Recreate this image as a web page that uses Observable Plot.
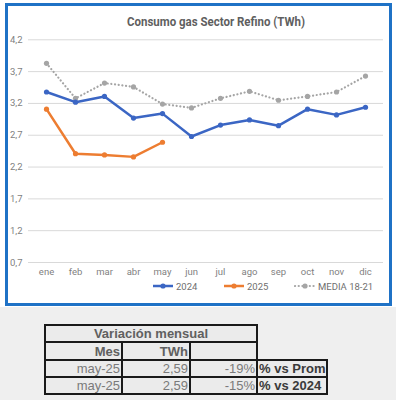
<!DOCTYPE html>
<html>
<head>
<meta charset="utf-8">
<script src="https://cdn.jsdelivr.net/npm/d3@7"></script>
<script src="https://cdn.jsdelivr.net/npm/@observablehq/plot@0.6"></script>
<style>
  html, body { margin: 0; padding: 0; background: #ffffff; }
  #wrap { position: relative; width: 396px; height: 400px; overflow: hidden; font-family: Roboto, "Liberation Sans", sans-serif; }
  #graybg { position: absolute; left: 0; top: 307px; width: 396px; height: 93px; background: #efefef; }
  #frame { position: absolute; left: 5px; top: 3px; width: 381px; height: 297px; border: 3px solid #1f72c6; background: #fff; }
  #plot { position: absolute; left: 0; top: 0; }
  #title { position: absolute; left: 0; top: 0; }
  #legend { position: absolute; left: 0; top: 279px; width: 396px; height: 16px; font-size: 9.5px; color: #6f6f6f; }
  .leg { position: absolute; top: 0; display: flex; align-items: center; height: 14px; }
  .leg svg { margin-right: 2px; }
  table { position: absolute; left: 44px; top: 324px; border-collapse: collapse; font-family: "Liberation Sans", Arial, sans-serif; font-size: 13px; table-layout: fixed; }
  td { padding: 0 1px; overflow: hidden; white-space: nowrap; line-height: 15px; }
  td.b { border: 2px solid #1a1a1a; background: #ebebeb; }
  td.h { font-weight: bold; color: #606060; }
  td.v { color: #7a7a7a; text-align: right; }
  td.lab { font-weight: bold; color: #3a3a3a; text-align: left; }
</style>
</head>
<body>
<div id="wrap">
  <div id="graybg"></div>
  <div id="frame"></div>
  <svg id="title" width="396" height="34">
    <text x="216" y="26" text-anchor="middle" font-family="Roboto, sans-serif" font-weight="bold" font-size="13.5" fill="#5f5f5f" textLength="178" lengthAdjust="spacingAndGlyphs">Consumo gas Sector Refino (TWh)</text>
  </svg>
  <div id="plot"></div>
  <div id="legend"></div>
  <table id="tbl"></table>
</div>
<script>
const months = ["ene","feb","mar","abr","may","jun","jul","ago","sep","oct","nov","dic"];
const v2024 = [3.38,3.22,3.31,2.97,3.04,2.68,2.86,2.94,2.85,3.11,3.02,3.14];
const v2025 = [3.11,2.41,2.39,2.36,2.59];
const media = [3.83,3.28,3.52,3.46,3.19,3.13,3.28,3.39,3.25,3.31,3.38,3.63];
const yTicks = [0.7,1.2,1.7,2.2,2.7,3.2,3.7,4.2];
const seriesNames = ["2024","2025","MEDIA 18-21"];
const seriesColors = ["#3b66c4","#ed7d31","#a5a5a5"];

const tableTitle = "Variación mensual";
const tableHead = ["Mes","TWh"];
const tableMes = ["may-25","may-25"];
const tableTwh = ["2,59","2,59"];
const tablePct = ["-19%","-15%"];
const tableLab = ["% vs Prom","% vs 2024"];

const d2024 = v2024.map((v,i)=>({m:months[i], v}));
const d2025 = v2025.map((v,i)=>({m:months[i], v}));
const dMed = media.map((v,i)=>({m:months[i], v}));
const fmt = d => d.toFixed(1).replace(".", ",");

const chart = Plot.plot({
  width: 396,
  height: 300,
  marginLeft: 28,
  marginRight: 13,
  marginTop: 39.3,
  marginBottom: 38,
  style: {background: "transparent", fontFamily: "Roboto, sans-serif", fontSize: "9.5px", color: "#7f7f7f", overflow: "visible"},
  x: {type: "point", domain: months, padding: 0.47, label: null},
  y: {domain: [0.7, 4.2], label: null},
  marks: [
    Plot.ruleY(yTicks, {stroke: "#d9d9d9", strokeWidth: 1}),
    Plot.axisY(yTicks, {tickSize: 0, tickPadding: 6, tickFormat: fmt, fill: "#7f7f7f"}),
    Plot.axisX(months, {tickSize: 0, tickPadding: 6, fill: "#7f7f7f"}),
    Plot.line(dMed, {x: "m", y: "v", stroke: seriesColors[2], strokeWidth: 2.2, strokeDasharray: "0.1,3.6", strokeLinecap: "round"}),
    Plot.dot(dMed, {x: "m", y: "v", r: 2.6, fill: seriesColors[2], stroke: "none"}),
    Plot.line(d2024, {x: "m", y: "v", stroke: seriesColors[0], strokeWidth: 2.5}),
    Plot.dot(d2024, {x: "m", y: "v", r: 2.6, fill: seriesColors[0], stroke: "none"}),
    Plot.line(d2025, {x: "m", y: "v", stroke: seriesColors[1], strokeWidth: 2.5}),
    Plot.dot(d2025, {x: "m", y: "v", r: 2.6, fill: seriesColors[1], stroke: "none"})
  ]
});
document.getElementById("plot").appendChild(chart);

// legend
const legend = document.getElementById("legend");
const legX = [152, 223, 294];
seriesNames.forEach((name, i) => {
  const el = document.createElement("div");
  el.className = "leg";
  el.style.left = legX[i] + "px";
  const dash = i === 2 ? 'stroke-dasharray="0.1,3.6" stroke-linecap="round" stroke-width="2.2"' : 'stroke-width="2.5"';
  el.innerHTML = `<svg width="22" height="14"><line x1="1" x2="21" y1="7" y2="7" stroke="${seriesColors[i]}" ${dash}/><circle cx="11" cy="7" r="2.6" fill="${seriesColors[i]}"/></svg><span>${name}</span>`;
  legend.appendChild(el);
});

// table
const tbl = document.getElementById("tbl");
const colW = [77, 68, 67, 67];
let html = "<colgroup>" + colW.map(w => `<col style="width:${w}px">`).join("") + "</colgroup>";
html += `<tr style="height:17px"><td class="b h" colspan="3" style="text-align:center">${tableTitle}</td><td></td></tr>`;
html += `<tr style="height:18px"><td class="b h" style="text-align:right">${tableHead[0]}</td><td class="b h" style="text-align:right">${tableHead[1]}</td><td class="b"></td><td></td></tr>`;
tableMes.forEach((m, i) => {
  html += `<tr style="height:17px"><td class="b v">${m}</td><td class="b v">${tableTwh[i]}</td><td class="b v">${tablePct[i]}</td><td class="b lab">${tableLab[i]}</td></tr>`;
});
tbl.innerHTML = html;
</script>
</body>
</html>
